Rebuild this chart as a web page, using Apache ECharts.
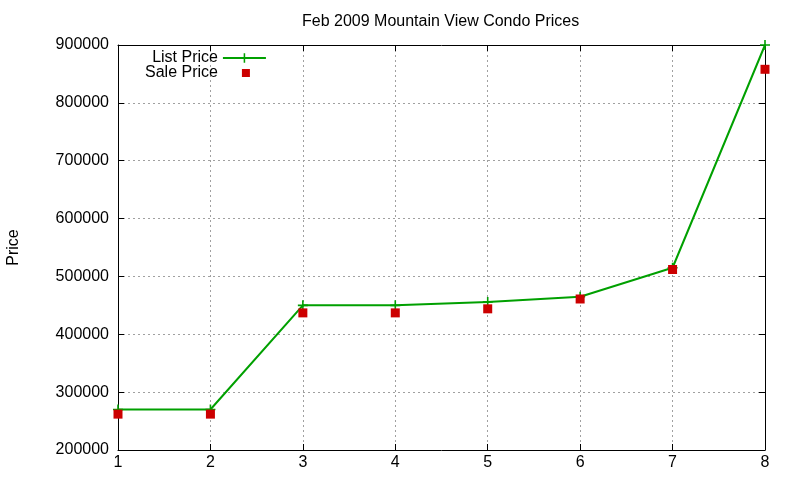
<!DOCTYPE html>
<html><head><meta charset="utf-8">
<script src="https://cdn.jsdelivr.net/npm/echarts@6/dist/echarts.min.js"></script>
<style>html,body{margin:0;padding:0;background:#fff}#c{width:800px;height:480px}</style>
</head><body><div id="c"></div>
<script>
const xValues = [1, 2, 3, 4, 5, 6, 7, 8];
const listPrice = [270000, 270000, 450000, 450000, 456000, 465000, 515000, 900000];
const salePrice = [262000, 262000, 437000, 437000, 444000, 461000, 512000, 858000];
const seriesNames = ['List Price', 'Sale Price'];
const titleText = 'Feb 2009 Mountain View Condo Prices';
const yName = 'Price';

const font = 'Liberation Sans, Arial, sans-serif';
const green = '#00a000';
const red = '#cc0000';
const plus = 'path://M4.2,0h1.6v4.2h4.2v1.6h-4.2v4.2h-1.6v-4.2h-4.2v-1.6h4.2z';
const chart = echarts.init(document.getElementById('c'));
const gridLine = {show: true, lineStyle: {color: '#a0a0a0', type: [2, 3], width: 1}};
const axisLineStyle = {show: true, lineStyle: {color: '#000', width: 1}};
chart.setOption({
  backgroundColor: '#fff',
  animation: false,
  title: {text: titleText, left: 297, top: 9, textStyle: {fontFamily: font, fontSize: 16, fontWeight: 'normal', color: '#000'}},
  legend: {
    orient: 'vertical', left: 140, top: 45, align: 'right',
    itemWidth: 43, itemHeight: 12, itemGap: -1,
    textStyle: {fontFamily: font, fontSize: 16, color: '#000', lineHeight: 15},
    data: [
      {name: seriesNames[0]},
      {name: seriesNames[1], icon: 'path://M0,0L0.01,0M43,12L43.01,12M19,2h8v8h-8z', itemStyle: {color: red, opacity: 1}}
    ]
  },
  grid: {left: 118, right: 35, top: 45, bottom: 30, containLabel: false, outerBoundsMode: 'none'},
  xAxis: [
    {type: 'value', min: 1, max: 8, interval: 1, position: 'bottom',
     axisLine: axisLineStyle, axisTick: {show: true, inside: true, length: 6, lineStyle: {color: '#000'}},
     axisLabel: {color: '#000', fontFamily: font, fontSize: 16, margin: 5, formatter: v => xValues.includes(v) ? String(v) : ''},
     splitLine: gridLine},
    {type: 'value', min: 1, max: 8, interval: 1, position: 'top',
     axisLine: axisLineStyle, axisTick: {show: true, inside: true, length: 6, lineStyle: {color: '#000'}},
     axisLabel: {show: false}, splitLine: {show: false}}
  ],
  yAxis: [
    {type: 'value', min: 200000, max: 900000, interval: 100000, position: 'left',
     name: yName, nameLocation: 'middle', nameRotate: 90, nameGap: 96,
     nameTextStyle: {fontFamily: font, fontSize: 16, color: '#000'},
     axisLine: axisLineStyle, axisTick: {show: true, inside: true, length: 6, lineStyle: {color: '#000'}},
     axisLabel: {color: '#000', fontFamily: font, fontSize: 16, margin: 9, formatter: v => String(v)},
     splitLine: gridLine},
    {type: 'value', min: 200000, max: 900000, interval: 100000, position: 'right',
     axisLine: axisLineStyle, axisTick: {show: true, inside: true, length: 6, lineStyle: {color: '#000'}},
     axisLabel: {show: false}, splitLine: {show: false}}
  ],
  series: [
    {name: seriesNames[0], type: 'line', xAxisIndex: 0, yAxisIndex: 0,
     data: xValues.map((x, i) => [x, listPrice[i]]),
     symbol: plus, symbolSize: 10, showSymbol: true,
     lineStyle: {color: green, width: 2}, itemStyle: {color: green}, z: 3},
    {name: seriesNames[1], type: 'scatter', xAxisIndex: 0, yAxisIndex: 0,
     data: xValues.map((x, i) => [x, salePrice[i]]),
     symbol: 'rect', symbolSize: 9, itemStyle: {color: red, opacity: 1}, z: 4}
  ]
});
</script></body></html>
